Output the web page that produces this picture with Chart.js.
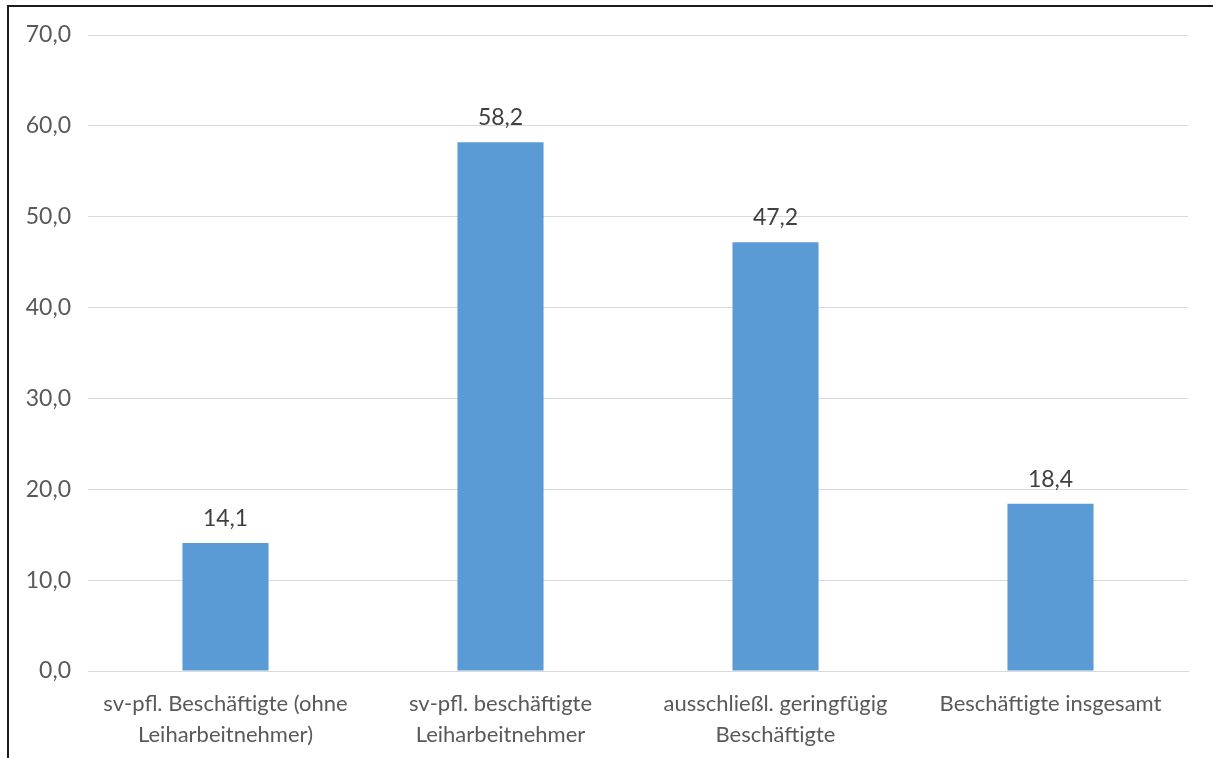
<!DOCTYPE html>
<html>
<head>
<meta charset="utf-8">
<script src="https://cdn.jsdelivr.net/npm/chart.js@4/dist/chart.umd.min.js"></script>
<style>
  html, body { margin: 0; padding: 0; background: #fff; }
  #wrap { position: relative; width: 1213px; height: 758px; overflow: hidden; }
  #frame { position: absolute; left: 7px; top: 5px; width: 1300px; height: 900px; border: 2px solid #1c1c1c; box-sizing: border-box; pointer-events: none; }
  canvas { position: absolute; left: 0; top: 0; }
</style>
</head>
<body>
<div id="wrap">
  <canvas id="c" width="1213" height="758"></canvas>
  <div id="frame"></div>
</div>
<script>
const categories = [
  ["sv-pfl. Beschäftigte (ohne", "Leiharbeitnehmer)"],
  ["sv-pfl. beschäftigte", "Leiharbeitnehmer"],
  ["ausschließl. geringfügig", "Beschäftigte"],
  ["Beschäftigte insgesamt"]
];
const values = [14.1, 58.2, 47.2, 18.4];
const yTicks = [0, 10, 20, 30, 40, 50, 60, 70];

const fmt = v => v.toFixed(1).replace('.', ',');
const FONT = "Lato, 'Open Sans', sans-serif";

const labelPlugin = {
  id: 'valueLabels',
  afterDatasetsDraw(chart) {
    const ctx = chart.ctx;
    const meta = chart.getDatasetMeta(0);
    ctx.save();
    ctx.font = "23px " + FONT;
    ctx.fillStyle = '#404040';
    ctx.textAlign = 'center';
    ctx.textBaseline = 'alphabetic';
    meta.data.forEach((bar, i) => {
      ctx.fillText(fmt(values[i]), bar.x, bar.y - 17);
    });
    ctx.restore();
  }
};

new Chart(document.getElementById('c'), {
  type: 'bar',
  data: {
    labels: categories,
    datasets: [{
      data: values,
      backgroundColor: '#5B9BD5',
      borderWidth: 0,
      barPercentage: 0.626,
      categoryPercentage: 0.5
    }]
  },
  options: {
    responsive: false,
    animation: false,
    layout: { padding: { left: 0, right: 25, top: 35, bottom: 0 } },
    plugins: { legend: { display: false }, tooltip: { enabled: false } },
    scales: {
      x: {
        grid: { display: false, drawTicks: false },
        border: { display: true, color: '#D9D9D9', width: 1 },
        ticks: { color: '#595959', font: { family: FONT, size: 22, lineHeight: 1.38 }, padding: 18, maxRotation: 0, autoSkip: false },
        afterFit(s) { s.height = 87; }
      },
      y: {
        min: 0, max: 70,
        afterBuildTicks(s) { s.ticks = yTicks.map(v => ({ value: v })); },
        grid: { color: '#D9D9D9', drawTicks: false },
        border: { display: false },
        ticks: { color: '#595959', font: { family: FONT, size: 23 }, padding: 17, callback: v => fmt(v) },
        afterFit(s) { s.width = 88; }
      }
    }
  },
  plugins: [labelPlugin]
});
</script>
</body>
</html>
